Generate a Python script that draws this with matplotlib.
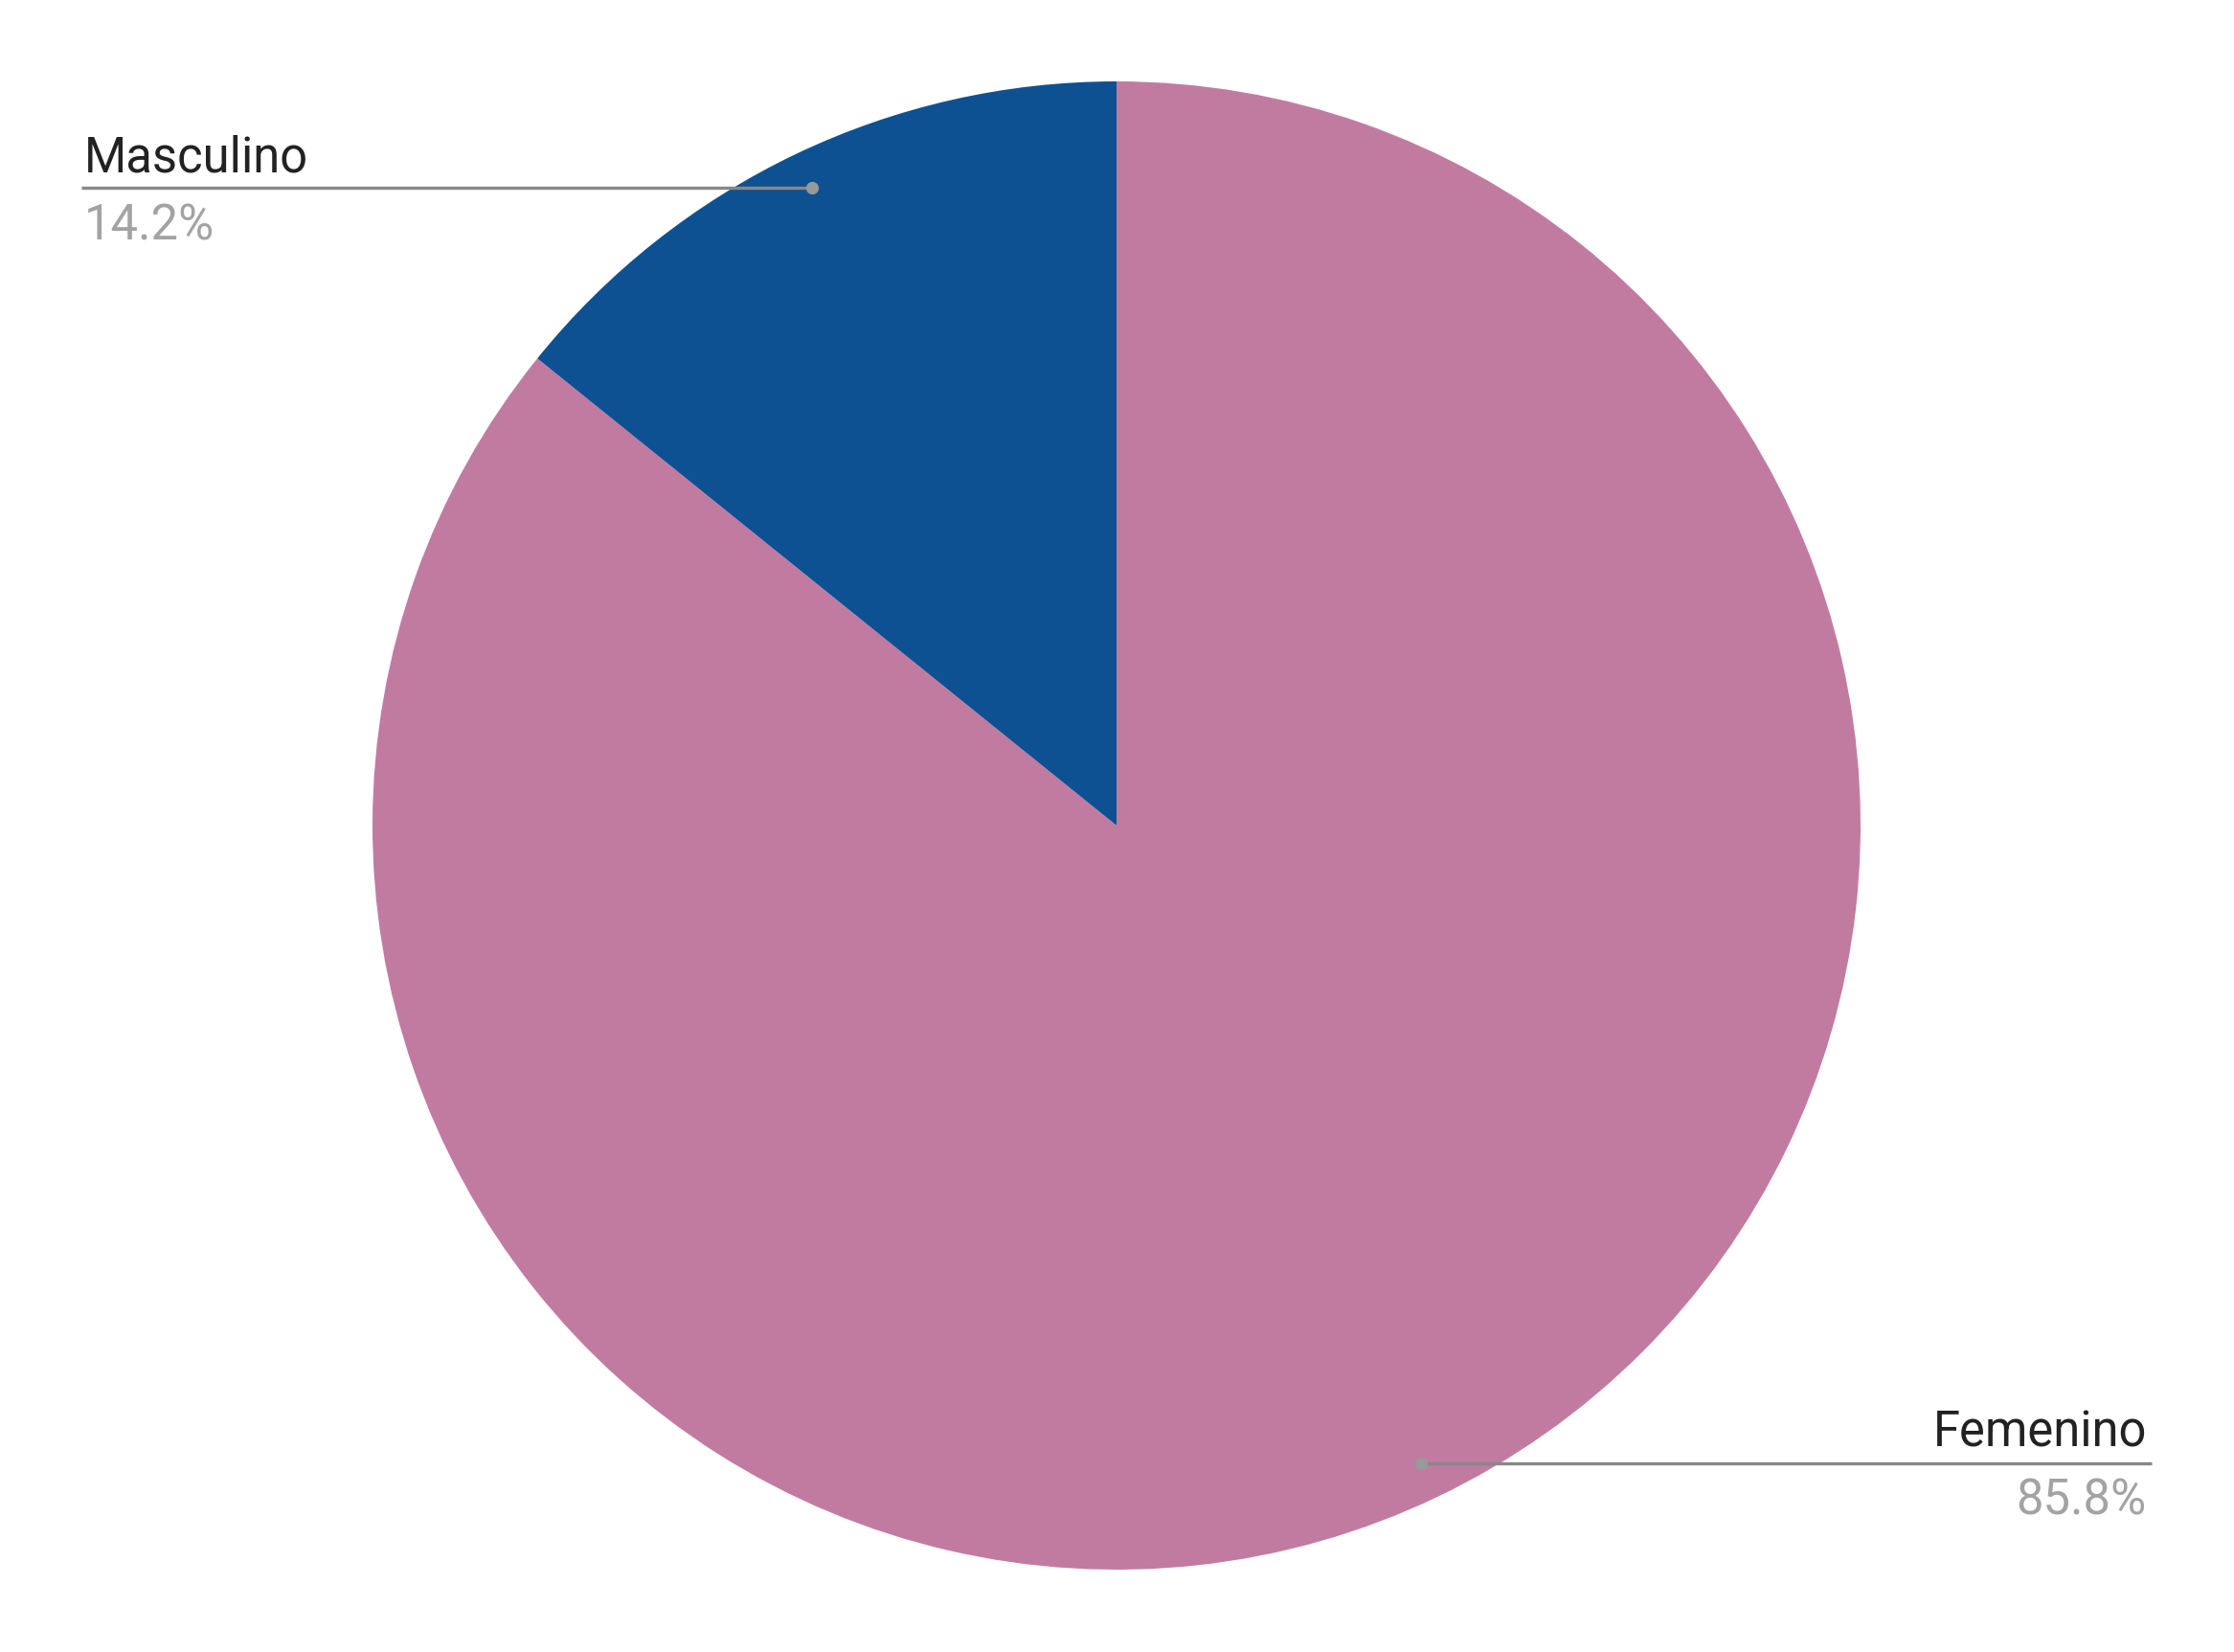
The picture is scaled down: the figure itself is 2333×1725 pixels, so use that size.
import matplotlib
matplotlib.use('Agg')
import matplotlib.pyplot as plt
import numpy as np

labels = ['Femenino', 'Masculino']
values = [85.8, 14.2]
colors = ['#c27ba0', '#0e5193']

W, H = 2333, 1725
fig = plt.figure(figsize=(W / 100, H / 100), dpi=100)
ax = fig.add_axes([0, 0, 1, 1])

cx, cy, r = 1166, 863, 777
wedges, _ = ax.pie(values, colors=colors, startangle=90, counterclock=False,
                   center=(cx, cy), radius=r, frame=True,
                   wedgeprops=dict(linewidth=0))
ax.set_xlim(0, W)
ax.set_ylim(0, H)
ax.set_aspect('equal')
ax.axis('off')

fs = 36.5
font = 'Roboto'
line_col = '#888888'

for w, lab, val in zip(wedges, labels, values):
    mid = np.deg2rad((w.theta1 + w.theta2) / 2)
    dx = cx + 0.95 * r * np.cos(mid)
    dy = cy + 0.95 * r * np.sin(mid)
    if dx < cx:
        x_end, ha, tx = 85, 'left', 88
    else:
        x_end, ha, tx = 2247, 'right', 2242
    ax.plot([x_end, dx], [dy, dy], color=line_col, lw=2.4, solid_capstyle='butt')
    ax.plot([dx], [dy], 'o', color='#999999', ms=9.5, mec='none')
    ax.text(tx, dy + 17, lab, ha=ha, va='baseline', fontsize=fs, family=font, color='#222222')
    ax.text(tx, dy - 54, '%.1f%%' % val, ha=ha, va='baseline', fontsize=fs, family=font,
            color='#a3a3a3')

fig.savefig('out.png', dpi=100, facecolor='white')
